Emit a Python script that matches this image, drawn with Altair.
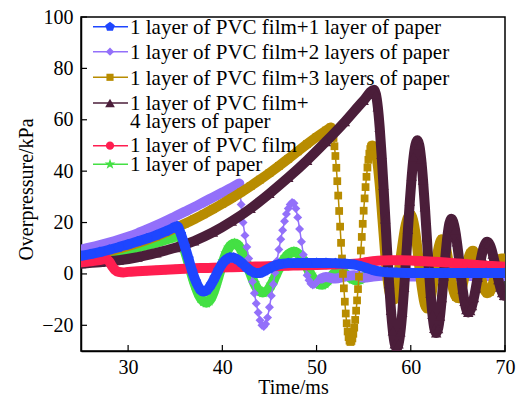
import altair as alt
import pandas as pd

FONT = "'Liberation Serif', 'Times New Roman', Times, serif"
W, H = 424, 334

x_domain = [25, 70]
y_domain = [-30, 100]
x_ticks = [30, 40, 50, 60, 70]
y_ticks = [-20, 0, 20, 40, 60, 80, 100]

labels = [
    "1 layer of PVC film+1 layer of paper",
    "1 layer of PVC film+2 layers of paper",
    "1 layer of PVC film+3 layers of paper",
    "1 layer of PVC film+\n4 layers of paper",
    "1 layer of PVC film",
    "1 layer of paper",
]
colors = ["#1e46ff", "#9370fa", "#b88c00", "#4b1e3a", "#ff1e50", "#44e044"]

# 1 layer PVC + 1 paper (blue)
blue_t = [25, 26, 27, 28, 29, 30, 31, 32, 33, 34, 34.7, 35.2, 35.6, 36.0, 36.4, 36.8, 37.2, 37.6, 38.0, 38.4,
          38.8, 39.2, 39.6, 40.0, 40.4, 40.8, 41.2, 41.6, 42.0, 42.5, 43.0, 43.5, 44.0, 44.5, 45.0, 45.5, 46.0,
          47, 48, 49, 50, 51, 52, 53, 54, 54.7, 55.4, 56.1, 56.8, 57.5, 58.5, 60, 62, 64, 66, 68, 70]
blue_v = [7.0, 7.7, 8.5, 9.4, 10.4, 11.5, 12.6, 13.8, 15.1, 16.6, 17.8, 18.6, 15.5, 11.0, 6.0, 1.0, -3.0, -5.8,
          -6.8, -6.2, -4.2, -1.5, 1.5, 4.0, 5.6, 6.4, 6.3, 5.6, 4.5, 2.8, 1.3, 0.4, 0.4, 1.2, 2.2, 3.1, 3.7,
          4.2, 4.3, 4.3, 4.3, 4.3, 4.2, 4.0, 3.6, 3.0, 2.2, 1.4, 0.9, 0.6, 0.5, 0.4, 0.4, 0.4, 0.4, 0.4, 0.4]

# 1 layer PVC + 2 paper (purple)
purple_t = [25, 26, 27, 28, 29, 30, 31, 32, 33, 34, 35, 36, 37, 38, 39, 40, 41, 41.8,
            42.0, 42.2, 42.4, 42.6, 42.8, 43.0, 43.2, 43.4, 43.6, 43.8, 44.0, 44.2, 44.4,
            44.6, 44.8, 45.0, 45.2, 45.4, 45.6, 45.8, 46.0, 46.2, 46.4, 46.6, 46.8, 47.0, 47.2, 47.4,
            47.6, 47.8, 48.0, 48.2, 48.4, 48.6, 48.8, 49.0, 49.2, 49.4, 49.6, 49.8, 50.0, 50.2,
            50.5, 51, 52, 53, 54, 55, 56, 58, 60, 63, 66, 70]
purple_v = [9.5, 10.3, 11.2, 12.2, 13.3, 14.5, 15.8, 17.3, 18.9, 20.6, 22.4, 24.2, 26.0, 27.9, 29.8, 31.7, 33.6, 35.2,
            27.0, 20.0, 15.0, 10.5, 6.0, 1.5, -3.0, -7.5, -11.5, -15.0, -18.0, -20.0, -20.5,
            -19.5, -17.0, -13.0, -8.5, -4.0, 0.5, 5.0, 9.5, 13.5, 17.0, 20.5, 23.3, 25.5, 27.0, 27.8,
            27.5, 25.5, 22.0, 17.5, 12.5, 7.5, 3.0, -0.5, -2.5, -3.8, -4.3, -4.0, -3.3, -2.5,
            -1.8, -1.2, -1.8, -1.0, -0.5, -1.5, -1.0, -0.5, -1.0, -1.0, -0.8, -0.8]

# 1 layer PVC + 3 paper (gold)
gold_t = [25, 27, 29, 31, 33, 35, 36, 37, 38, 39, 40, 41, 42, 43, 44, 45, 46, 47, 48, 49, 50, 51, 51.5,
          51.6, 51.7, 51.8, 51.9, 52.0, 52.1, 52.2, 52.3, 52.4, 52.5, 52.6, 52.7, 52.8, 52.9, 53.0, 53.1,
          53.2, 53.3, 53.4, 53.5, 53.6,
          53.7, 53.8, 53.9, 54.0, 54.1, 54.2, 54.3, 54.4, 54.5, 54.6, 54.7, 54.8, 54.9, 55.0, 55.1, 55.2,
          55.3, 55.4, 55.5, 55.6, 55.7, 55.8, 55.9,
          56.1, 56.4, 56.7, 57.0, 57.3, 57.6, 57.9, 58.2, 58.5, 58.8, 59.1, 59.4, 59.7, 60.0, 60.3, 60.6,
          60.9, 61.2, 61.5, 61.8, 62.1, 62.4, 62.7, 63.0, 63.3, 63.6, 63.9, 64.2, 64.5, 64.8, 65.1, 65.4,
          65.7, 66.0, 66.3, 66.6, 66.9, 67.2, 67.5, 67.8, 68.1, 68.4, 68.7, 69.0, 69.3, 69.6, 70.0]
gold_v = [6.0, 7.8, 9.8, 12.0, 14.6, 17.8, 19.5, 21.3, 23.2, 25.2, 27.3, 29.5, 31.8, 34.2, 36.7, 39.3, 42.0,
          44.8, 47.7, 50.6, 53.3, 55.8, 57.0,
          56.5, 55.1, 52.9, 49.7, 45.9, 41.3, 36.1, 30.5, 24.5, 18.4, 12.1, 6.0, 0.0, -5.6, -10.8, -15.4,
          -19.2, -22.4, -24.6, -26.0, -26.5,
          -26.1, -25.1, -23.3, -20.9, -17.9, -14.3, -10.3, -5.9, -1.1, 4.0, 9.1, 14.4, 19.5, 24.6, 29.4,
          33.8, 37.8, 41.4, 44.4, 46.8, 48.6, 49.6, 50.0,
          49.5, 45.0, 35.0, 21.0, 7.0, -4.0, -9.5, -10.0, -5.0, 3.0, 11.0, 18.0, 22.0, 23.0, 20.0, 13.0,
          3.0, -6.0, -12.0, -13.5, -10.0, -3.0, 5.0, 11.0, 13.5, 12.0, 7.0, 0.0, -6.0, -9.0, -9.5, -6.0,
          -1.0, 4.5, 8.0, 9.0, 7.0, 3.0, -2.0, -6.0, -7.5, -7.0, -4.0, 0.0, 4.0, 6.0, 6.0]

# 1 layer PVC + 4 paper (maroon)
maroon_t = [25, 27, 29, 31, 33, 35, 37, 39, 41, 43, 45, 47, 49, 51, 53, 55, 56.1,
            56.3, 56.5, 56.7, 56.9, 57.1, 57.3, 57.5, 57.7, 57.9, 58.1, 58.3, 58.5,
            58.7, 58.9, 59.1, 59.3, 59.5, 59.7, 59.9, 60.1, 60.3, 60.5, 60.7,
            60.9, 61.1, 61.3, 61.5, 61.7, 61.9, 62.1, 62.3, 62.5, 62.7,
            62.9, 63.1, 63.3, 63.5, 63.7, 63.9, 64.1, 64.3,
            64.5, 64.7, 64.9, 65.1, 65.3, 65.5, 65.7, 65.9, 66.1,
            66.3, 66.5, 66.7, 66.9, 67.1, 67.3, 67.5, 67.7, 67.9, 68.1,
            68.3, 68.5, 68.7, 68.9, 69.1, 69.3, 69.5, 69.7, 69.9, 70.0]
maroon_v = [4.0, 4.5, 5.3, 6.5, 8.2, 10.2, 12.8, 16.2, 20.5, 25.5, 31.3, 37.5, 44.2, 51.5, 59.2, 67.5, 71.7,
            70.0, 65.0, 57.0, 46.5, 34.4, 21.4, 8.3, -3.8, -14.2, -22.2, -27.3, -29.0,
            -27.3, -22.6, -15.0, -5.3, 5.7, 17.3, 28.3, 38.0, 45.6, 50.3, 52.0,
            50.2, 44.8, 36.5, 26.1, 14.5, 2.9, -7.5, -15.8, -21.2, -23.0,
            -21.3, -16.5, -9.3, -0.8, 7.8, 15.0, 19.8, 21.5,
            20.4, 17.2, 12.4, 6.4, 0.1, -5.9, -10.7, -13.9, -15.0,
            -14.3, -12.4, -9.3, -5.5, -1.3, 3.0, 6.8, 9.9, 11.8, 12.5,
            11.9, 10.3, 7.7, 4.5, 1.1, -2.3, -5.2, -7.3, -8.4, -8.5]

# 1 layer PVC film (red)
red_t = [25, 26, 27, 27.6, 28.0, 28.3, 28.6, 29.0, 29.5, 30, 31, 32, 33, 34, 35, 36, 37, 38, 39, 40, 41, 42,
         43, 44, 45, 46, 47, 48, 49, 50, 51, 52, 53, 54, 55, 56, 57, 58, 59, 60, 61, 62, 63, 64, 65, 66, 67,
         68, 69, 70]
red_v = [4.5, 4.9, 5.4, 5.8, 4.8, 3.0, 1.6, 0.8, 0.6, 0.8, 1.0, 1.2, 1.4, 1.6, 1.8, 2.0, 2.2, 2.3, 2.4, 2.5,
         2.6, 2.7, 2.8, 2.9, 3.0, 3.1, 3.2, 3.3, 3.4, 3.5, 3.6, 3.7, 3.8, 4.0, 4.4, 4.9, 5.2, 5.3, 5.3, 5.2,
         5.0, 4.8, 4.6, 4.4, 4.1, 3.8, 3.5, 3.2, 3.0, 2.8]

# 1 layer of paper (green)
green_t = [25, 26, 27, 28, 29, 30, 31, 32, 33, 34, 35, 35.3, 35.6, 35.9, 36.2, 36.5, 36.8, 37.1, 37.4, 37.7,
           38.0, 38.3, 38.6, 38.9, 39.2, 39.5, 39.8, 40.1, 40.4, 40.7, 41.0, 41.3, 41.6, 41.9, 42.2, 42.5,
           42.8, 43.1, 43.4, 43.7, 44.0, 44.3, 44.6, 44.9, 45.2, 45.5, 45.8, 46.1, 46.4, 46.7, 47.0, 47.3,
           47.6, 47.9, 48.2, 48.5, 48.8, 49.1, 49.4, 49.7, 50.0, 50.3, 50.6, 50.9, 51.2, 51.5, 51.8, 52.1,
           52.4, 52.7, 53.0, 53.4, 53.8, 54.2, 54.6, 55.0, 55.5, 56, 57, 58, 60, 62, 64, 66, 68, 70]
green_v = [6.0, 6.5, 7.0, 7.8, 8.6, 9.4, 10.3, 11.2, 12.2, 13.3, 14.6, 15.2, 13.5, 10.5, 6.8, 3.0, -0.8, -4.3,
           -7.2, -9.4, -10.7, -11.2, -10.5, -8.7, -5.8, -2.3, 1.5, 5.0, 8.0, 10.2, 11.4, 11.8, 11.4, 10.0,
           7.8, 5.0, 2.0, -1.0, -3.7, -5.7, -6.8, -7.2, -7.0, -6.0, -4.2, -2.0, 0.5, 2.8, 4.8, 6.4, 7.6, 8.3,
           8.6, 8.3, 7.3, 5.8, 3.9, 1.8, -0.3, -2.0, -3.3, -4.0, -4.2, -3.7, -2.6, -1.3, 0.0, 0.8, 1.1, 0.9,
           0.2, -1.0, -2.0, -2.5, -2.2, -1.3, -0.3, 0.0, -0.5, -0.8, -0.5, -0.6, -0.4, -0.5, -0.4, -0.4]

PENTAGON = "M0,-1L0.951,-0.309L0.588,0.809L-0.588,0.809L-0.951,-0.309Z"
STAR = ("M0,-1L0.235,-0.324L0.951,-0.309L0.38,0.124L0.588,0.809L0,0.4"
        "L-0.588,0.809L-0.38,0.124L-0.951,-0.309L-0.235,-0.324Z")
shapes = [PENTAGON, "diamond", "square", "triangle-up", "circle", STAR]
sizes = [120, 80, 60, 110, 80, 150]

series = [
    (blue_t, blue_v, None),
    (purple_t, purple_v, (41.8, 50.5)),
    (gold_t, gold_v, (51.5, 55.9)),
    (maroon_t, maroon_v, None),
    (red_t, red_v, None),
    (green_t, green_v, None),
]
draw_order = [5, 1, 2, 3, 4, 0]

xs = alt.Scale(domain=x_domain, nice=False, zero=False)
ys = alt.Scale(domain=y_domain, nice=False, zero=False)
x_axis = alt.Axis(values=x_ticks, ticks=False, tickSize=0, grid=False, labelFont=FONT, labelFontSize=20,
                  labelColor="black", labelPadding=22, labelBaseline="alphabetic", labelFlush=False,
                  labelOverlap=False, domainColor="black", domainWidth=1.5,
                  title="Time/ms", titleFont=FONT, titleFontSize=20, titleFontWeight="normal",
                  titleColor="black", titleBaseline="alphabetic", titleY=42)
y_axis = alt.Axis(values=y_ticks, ticks=False, tickSize=0, grid=False, labelFont=FONT, labelFontSize=20,
                  labelColor="black", labelPadding=8, labelFlush=False, labelOverlap=False,
                  domainColor="black", domainWidth=1.5,
                  title="Overpressure/kPa", titleFont=FONT, titleFontSize=20, titleFontWeight="normal",
                  titleColor="black", titleBaseline="alphabetic", titleX=-49, titleY=172, titleAngle=270)


def X():
    return alt.X("t:Q", scale=xs, axis=x_axis)


def Y():
    return alt.Y("v:Q", scale=ys, axis=y_axis)


layers = []
for i in draw_order:
    ts, vs, thin = series[i]
    c = colors[i]
    df = pd.DataFrame({"t": ts, "v": vs})
    if thin:
        a, b = thin
        thick = pd.concat([df[df.t <= a].assign(seg="a"), df[df.t >= b].assign(seg="c")])
        mid = df[(df.t >= a) & (df.t <= b)]
        layers.append(alt.Chart(mid).mark_line(color=c, strokeWidth=1.5, clip=True).encode(x=X(), y=Y()))
    else:
        thick = df.assign(seg="a")
    layers.append(
        alt.Chart(thick).mark_line(color=c, strokeWidth=10, strokeCap="round", strokeJoin="round",
                                   interpolate="monotone", clip=True)
        .encode(x=X(), y=Y(), detail="seg:N")
    )
    layers.append(
        alt.Chart(df).mark_point(shape=shapes[i], filled=True, size=sizes[i], color=c, opacity=1,
                                 strokeWidth=0, clip=True)
        .encode(x=X(), y=Y())
    )

# inward ticks
layers.append(
    alt.Chart(pd.DataFrame({"t": x_ticks})).mark_rule(color="black", strokeWidth=1.2)
    .encode(x=X(), y=alt.value(H), y2=alt.value(H - 6))
)
layers.append(
    alt.Chart(pd.DataFrame({"v": y_ticks})).mark_rule(color="black", strokeWidth=1.2)
    .encode(y=Y(), x=alt.value(0), x2=alt.value(6))
)

# legend
marker_y = [9.7, 34.7, 60.3, 86.0, 128.7, 147.3]
text_y = [[17], [42.3], [68], [93, 111], [134.7], [153.7]]
for i, lab in enumerate(labels):
    c = colors[i]
    one = pd.DataFrame({"label": [lab]})
    layers.append(
        alt.Chart(one).mark_rule(color=c, strokeWidth=1.5)
        .encode(x=alt.value(12), x2=alt.value(47), y=alt.value(marker_y[i]))
    )
    layers.append(
        alt.Chart(one).mark_point(shape=shapes[i], filled=True, size=sizes[i] * 0.85, color=c, opacity=1,
                                  strokeWidth=0)
        .encode(x=alt.value(29), y=alt.value(marker_y[i]))
    )
    for line, ty in zip(lab.split("\n"), text_y[i]):
        layers.append(
            alt.Chart(pd.DataFrame({"label": [line]})).mark_text(
                align="left", baseline="alphabetic", font=FONT, fontSize=21, color="black")
            .encode(x=alt.value(49), y=alt.value(ty), text="label:N")
        )

chart = (
    alt.layer(*layers)
    .properties(width=W, height=H, autosize=alt.AutoSizeParams(type="none"),
                padding={"left": 81, "top": 17, "right": 13, "bottom": 48}, background="white")
    .configure_view(stroke="black", strokeWidth=1.5)
)

chart.save("out.html", embed_options={"renderer": "svg", "actions": False})
